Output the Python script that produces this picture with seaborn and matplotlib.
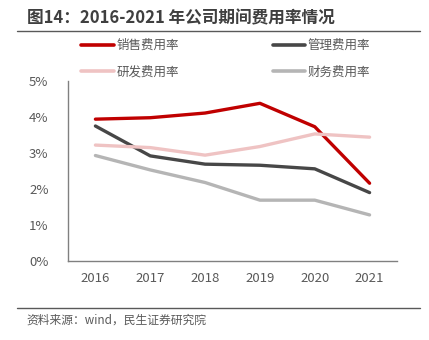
import matplotlib
matplotlib.use("Agg")
import matplotlib.pyplot as plt
import seaborn as sns
import pandas as pd
from matplotlib.lines import Line2D

years = ["2016", "2017", "2018", "2019", "2020", "2021"]
sales = [3.94, 3.98, 4.11, 4.38, 3.73, 2.16]
admin = [3.75, 2.92, 2.69, 2.66, 2.56, 1.90]
rnd = [3.22, 3.15, 2.94, 3.18, 3.53, 3.44]
finance = [2.93, 2.53, 2.18, 1.69, 1.69, 1.28]
names = ["销售费用率", "管理费用率", "研发费用率", "财务费用率"]
colors = ["#C00000", "#474747", "#EFC3C3", "#B5B5B5"]

rows = []
for n, vals in zip(names, [sales, admin, rnd, finance]):
    for y, v in zip(years, vals):
        rows.append({"year": y, "series": n, "value": v})
df = pd.DataFrame(rows)

sns.set_style("white")
plt.rcParams["font.family"] = ["Noto Sans CJK SC", "DejaVu Sans"]

fig = plt.figure(figsize=(4.29, 3.40), dpi=100)
ax = fig.add_axes([68/429, 79/340, (397-68)/429, (261-81)/340])
sns.lineplot(data=df, x="year", y="value", hue="series", hue_order=names,
             palette=colors, linewidth=2.4, ax=ax, legend=False, sort=False)
ax.set_xlim(-0.5, 5.5)
ax.set_ylim(0, 5)
ax.set_yticks([0, 1, 2, 3, 4, 5])
ax.set_yticklabels([f"{i}%" for i in range(6)])
ax.set_xlabel("")
ax.set_ylabel("")
for s in ["top", "right"]:
    ax.spines[s].set_visible(False)
for s in ["left", "bottom"]:
    ax.spines[s].set_color("#808080")
    ax.spines[s].set_linewidth(1.0)
ax.tick_params(axis="both", length=0, labelsize=9.5, colors="#595959", pad=8)
ax.tick_params(axis="y", pad=14)

# legend (row 1: sales, admin; row 2: rnd, finance)
handles = [Line2D([0], [0], color=c, lw=2.6) for c in colors]
order = [0, 2, 1, 3]
leg = fig.legend([handles[i] for i in order], [names[i] for i in order],
                 ncol=2, loc="upper left", bbox_to_anchor=(70/429, 1 - 28/340),
                 frameon=False, fontsize=9, handlelength=2.6, handletextpad=0.2,
                 columnspacing=7.5, labelspacing=1.05, labelcolor="#595959")

# title and rules
fig.text(27/429, 1 - 18/340, "图14：2016-2021 年公司期间费用率情况", fontsize=12,
         fontweight="bold", color="#3F3F3F", va="center", ha="left")
fig.add_artist(Line2D([17/429, 420/429], [1 - 31/340, 1 - 31/340], color="#595959", lw=1.0))
fig.add_artist(Line2D([17/429, 420/429], [1 - 308/340, 1 - 308/340], color="#595959", lw=1.0))
fig.text(26/429, 1 - 320/340, "资料来源：wind，民生证券研究院", fontsize=8.5,
         color="#595959", va="center", ha="left")

fig.savefig("out.png", dpi=100)
